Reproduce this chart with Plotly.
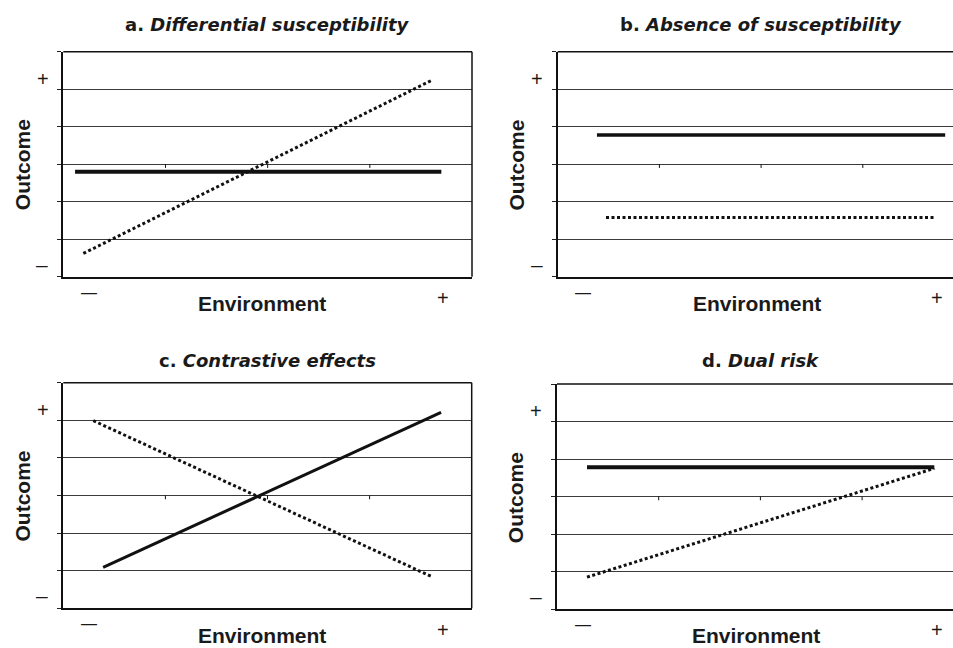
import plotly.graph_objects as go

W, H = 953, 648

panel_titles = ["<b>a. <i>Differential susceptibility</i></b>", "<b>b. <i>Absence of susceptibility</i></b>",
                "<b>c. <i>Contrastive effects</i></b>", "<b>d. <i>Dual risk</i></b>"]
x_label = "Environment"
y_label = "Outcome"
y_ticks = [0, 1, 2, 3, 4, 5, 6]
x_cat_ticks = [1, 2, 3]

# Line endpoints (x in category units 0..4, y in outcome units 0..6)
a_solid_x = [0.115, 3.70]; a_solid_y = [2.80, 2.80]
a_dot_x = [0.196, 3.60];   a_dot_y = [0.62, 5.23]
b_solid_x = [0.386, 3.81]; b_solid_y = [3.78, 3.78]
b_dot_x = [0.475, 3.72];   b_dot_y = [1.58, 1.58]
c_solid_x = [0.39, 3.70];  c_solid_y = [1.09, 5.21]
c_dot_x = [0.294, 3.61];   c_dot_y = [4.99, 0.84]
d_solid_x = [0.295, 3.71]; d_solid_y = [3.78, 3.78]
d_dot_x = [0.295, 3.71];   d_dot_y = [0.85, 3.75]

FONT = "Liberation Sans, Arial, sans-serif"
TFONT = "DejaVu Sans, Liberation Sans, sans-serif"

# panel boxes in pixels: left, right, top, bottom
boxes = [
    (63.3, 472.0, 51.7, 276.7),
    (557.7, 964.5, 51.7, 276.7),
    (63.3, 471.7, 382.7, 608.3),
    (557.0, 963.8, 384.0, 609.0),
]

series = [
    (a_solid_x, a_solid_y, a_dot_x, a_dot_y, 4.0),
    (b_solid_x, b_solid_y, b_dot_x, b_dot_y, 3.5),
    (c_solid_x, c_solid_y, c_dot_x, c_dot_y, 3.0),
    (d_solid_x, d_solid_y, d_dot_x, d_dot_y, 4.0),
]

fig = go.Figure()
layout = dict(width=W, height=H, margin=dict(l=0, r=0, t=0, b=0),
              paper_bgcolor="white", plot_bgcolor="white", showlegend=False)
shapes = []
annotations = []


def px(x, y):
    return x / W, 1 - y / H


for i, ((l, r, t, b), (sx, sy, dx, dy, sw)) in enumerate(zip(boxes, series)):
    n = i + 1
    xa = "x" if n == 1 else f"x{n}"
    ya = "y" if n == 1 else f"y{n}"
    xk = "xaxis" if n == 1 else f"xaxis{n}"
    yk = "yaxis" if n == 1 else f"yaxis{n}"
    rr = min(r, W)
    xmax = 4 * (rr - l) / (r - l)
    layout[xk] = dict(domain=[l / W, rr / W], range=[0, xmax], anchor=ya,
                      showgrid=False, zeroline=False, showticklabels=False,
                      showline=True, linecolor="#111", linewidth=2, ticks="",
                      fixedrange=True)
    layout[yk] = dict(domain=[1 - b / H, 1 - t / H], range=[0, 6], anchor=xa,
                      tickvals=y_ticks, showgrid=True, gridcolor="#3a3a3a", gridwidth=1,
                      zeroline=False, showticklabels=False, showline=True,
                      linecolor="#111", linewidth=2, ticks="outside", ticklen=4,
                      tickcolor="#222", tickwidth=1, fixedrange=True)
    fig.add_trace(go.Scatter(x=dx, y=dy, mode="lines", xaxis=xa, yaxis=ya, hoverinfo="skip",
                             line=dict(color="#111", width=3, dash="3px,2.5px")))
    fig.add_trace(go.Scatter(x=sx, y=sy, mode="lines", xaxis=xa, yaxis=ya, hoverinfo="skip",
                             line=dict(color="#111", width=sw)))
    # box top and right borders
    shapes.append(dict(type="line", xref=f"{xa} domain", yref=f"{ya} domain",
                       x0=0, x1=1, y0=1, y1=1, line=dict(color="#111", width=1.5)))
    if r <= W:
        shapes.append(dict(type="line", xref=f"{xa} domain", yref=f"{ya} domain",
                           x0=1, x1=1, y0=0, y1=1, line=dict(color="#111", width=1.5)))
    # category axis crossing in the middle, with ticks pointing down
    for k in x_cat_ticks:
        shapes.append(dict(type="line", xref=xa, yref=ya, x0=k, x1=k, y0=3, y1=2.9,
                           line=dict(color="#111", width=1)))

    cx = l + (r - l) / 2
    ty = 25 if i < 2 else 360
    annotations.append(dict(text=panel_titles[i], x=px(cx, ty)[0], y=px(cx, ty)[1],
                            xref="paper", yref="paper", showarrow=False,
                            xanchor="center", yanchor="middle",
                            font=dict(family=TFONT, size=18, color="#1a1a1a")))
    # axis titles
    lx = l - 41.3
    annotations.append(dict(text=f"<b>{y_label}</b>", x=px(lx, 0)[0], y=px(0, (t + b) / 2 + 1)[1],
                            xref="paper", yref="paper", showarrow=False, textangle=-90,
                            xanchor="center", yanchor="middle",
                            font=dict(family=FONT, size=21, color="#1a1a1a")))
    if i < 2:
        annotations.append(dict(text=f"<b>{x_label}</b>", x=px(l + 199, 0)[0], y=px(0, b + 26.5)[1],
                                xref="paper", yref="paper", showarrow=False,
                                xanchor="center", yanchor="middle",
                                font=dict(family=FONT, size=21, color="#1a1a1a")))
    else:
        annotations.append(dict(text=f"<b>{x_label}</b>", x=px(l + 199, 0)[0], y=0,
                                xref="paper", yref="paper", showarrow=False,
                                xanchor="center", yanchor="bottom", borderpad=0,
                                font=dict(family=FONT, size=21, color="#1a1a1a")))
    # +/- markers
    signs = [
        ("+", l - 20.6, t + 27.3, 20),
        ("\u2013", l - 21, b - 12.7, 21),
        ("\u2014", l + 25.7, b + 15.3, 16),
        ("+", l + 379.7, b + 21.3, 20),
    ]
    for s, sx_, sy_, fs in signs:
        annotations.append(dict(text=s, x=px(sx_, 0)[0], y=px(0, sy_)[1],
                                xref="paper", yref="paper", showarrow=False,
                                xanchor="center", yanchor="middle",
                                font=dict(family=FONT, size=fs, color="#1a1a1a")))

layout["shapes"] = shapes
layout["annotations"] = annotations
fig.update_layout(**layout)
fig.write_html("out.html", config={"displayModeBar": False, "staticPlot": True},
               post_script="document.body.style.margin='0';document.body.style.overflow='hidden';")
